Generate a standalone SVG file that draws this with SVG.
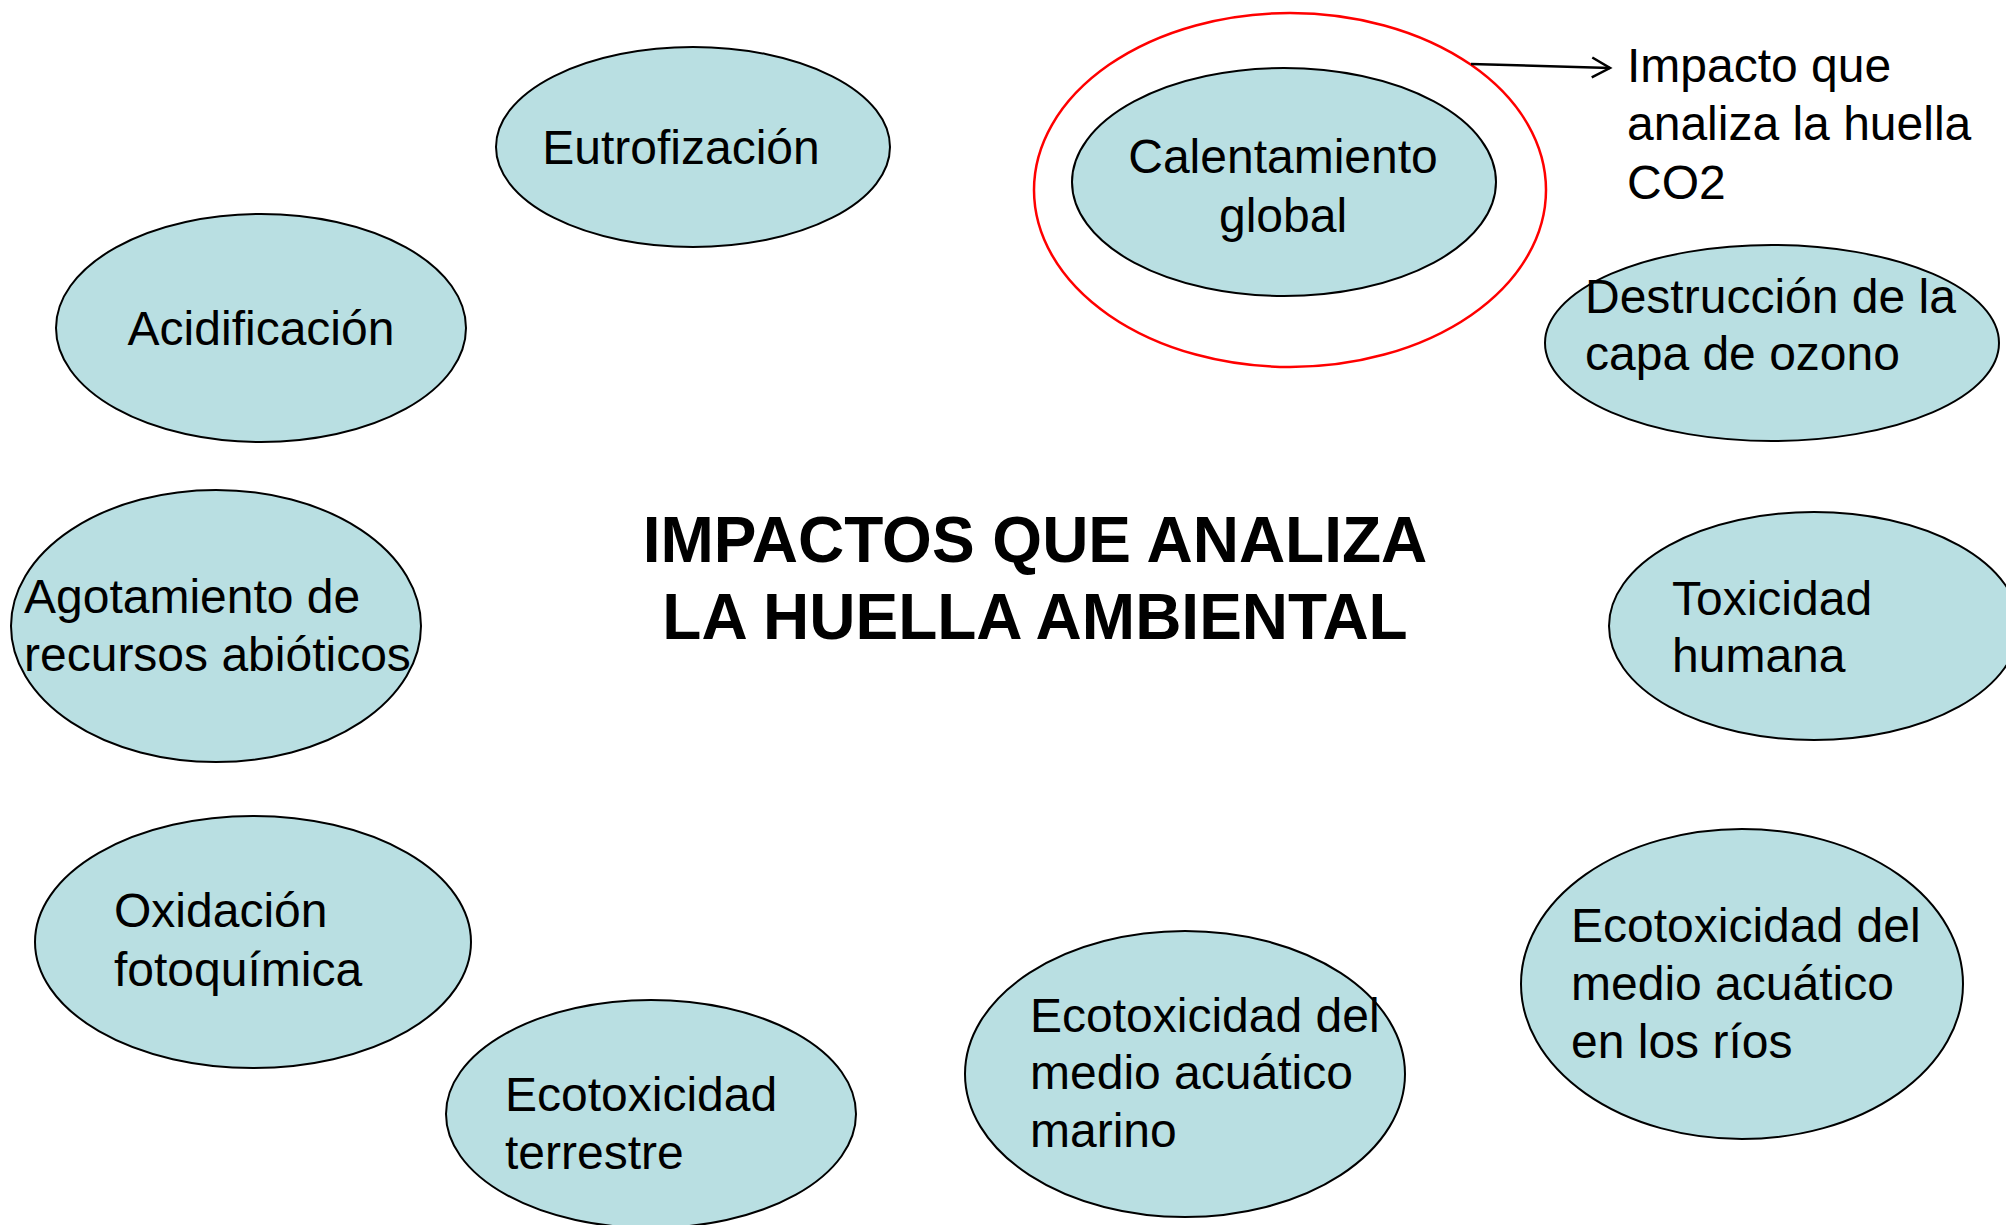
<svg xmlns="http://www.w3.org/2000/svg" width="2006" height="1225" viewBox="0 0 2006 1225">
<defs>
<style>
.n{fill:#b9dfe2;stroke:#000;stroke-width:2}
.t{font-family:"Liberation Sans",Arial,sans-serif;font-size:48px;fill:#000}
.c{text-anchor:middle}
.h{font-family:"Liberation Sans",Arial,sans-serif;font-size:64px;font-weight:bold;fill:#000;text-anchor:middle}
</style>
<marker id="ar" markerWidth="24" markerHeight="24" refX="20" refY="12" orient="auto" markerUnits="userSpaceOnUse">
<path d="M2,2 L20,12 L2,22" fill="none" stroke="#000" stroke-width="2.5"/>
</marker>
</defs>
<rect width="2006" height="1225" fill="#fff"/>
<g id="title"><text class="h" x="1035" y="562">IMPACTOS QUE ANALIZA</text><text class="h" x="1035" y="639">LA HUELLA AMBIENTAL</text></g>
<g id="eutrofizacion"><ellipse class="n" cx="693" cy="147" rx="197" ry="100"/><text class="t c" x="681" y="164">Eutrofización</text></g>
<g id="highlight"><ellipse cx="1290" cy="190" rx="256" ry="177" fill="none" stroke="#ff0000" stroke-width="2.5"/></g>
<g id="calentamiento"><ellipse class="n" cx="1284" cy="182" rx="212" ry="114"/><text class="t c" x="1283" y="173">Calentamiento</text><text class="t c" x="1283" y="232">global</text></g>
<g id="nota"><text class="t" x="1627" y="82">Impacto que</text><text class="t" x="1627" y="140">analiza la huella</text><text class="t" x="1627" y="199">CO2</text></g>
<g id="destruccion"><ellipse class="n" cx="1772" cy="343" rx="227" ry="98"/><text class="t" x="1585" y="313">Destrucción de la</text><text class="t" x="1585" y="370">capa de ozono</text></g>
<g id="acidificacion"><ellipse class="n" cx="261" cy="328" rx="205" ry="114"/><text class="t c" x="261" y="345">Acidificación</text></g>
<g id="agotamiento"><ellipse class="n" cx="216" cy="626" rx="205" ry="136"/><text class="t" x="24" y="613">Agotamiento de</text><text class="t" x="24" y="671">recursos abióticos</text></g>
<g id="toxicidad"><ellipse class="n" cx="1814" cy="626" rx="205" ry="114"/><text class="t" x="1672" y="615">Toxicidad</text><text class="t" x="1672" y="672">humana</text></g>
<g id="oxidacion"><ellipse class="n" cx="253" cy="942" rx="218" ry="126"/><text class="t" x="114" y="927">Oxidación</text><text class="t" x="114" y="986">fotoquímica</text></g>
<g id="terrestre"><ellipse class="n" cx="651" cy="1114" rx="205" ry="114"/><text class="t" x="505" y="1111">Ecotoxicidad</text><text class="t" x="505" y="1169">terrestre</text></g>
<g id="marino"><ellipse class="n" cx="1185" cy="1074" rx="220" ry="143"/><text class="t" x="1030" y="1032">Ecotoxicidad del</text><text class="t" x="1030" y="1089">medio acuático</text><text class="t" x="1030" y="1147">marino</text></g>
<g id="rios"><ellipse class="n" cx="1742" cy="984" rx="221" ry="155"/><text class="t" x="1571" y="942">Ecotoxicidad del</text><text class="t" x="1571" y="1000">medio acuático</text><text class="t" x="1571" y="1058">en los ríos</text></g>
<g id="connectors"><line x1="1471" y1="64" x2="1610" y2="68" stroke="#000" stroke-width="2.5" marker-end="url(#ar)"/></g>
</svg>
